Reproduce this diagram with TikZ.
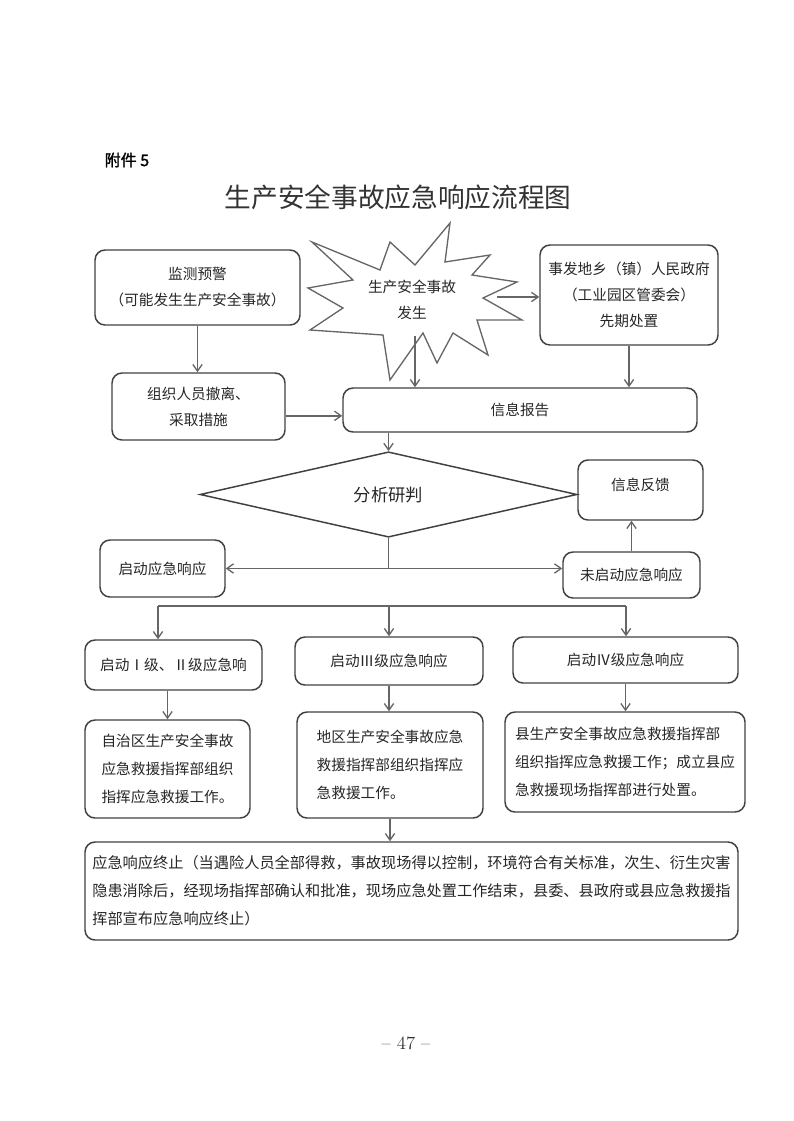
\documentclass[tikz,border=0pt]{standalone}
\usepackage{fontspec}
\newfontfamily\cjk{Noto Sans CJK SC}
\newfontfamily\cjkbold[FakeBold=1.5]{Noto Sans CJK SC}
\usetikzlibrary{shapes.geometric,arrows.meta}
\tikzset{
  box/.style={draw=black!75, line width=1.1pt, rounded corners=7.5pt, align=center, inner sep=0pt, text=black!85, font=\cjk\fontsize{11}{19.5}\selectfont},
  lbox/.style={box, align=left, font=\cjk\fontsize{11}{21}\selectfont},
  link/.style={black!60, line width=1pt},
}
\begin{document}
\begin{tikzpicture}[x=0.75pt,y=-0.75pt,>={Straight Barb[length=5pt,width=7pt]}]
\useasboundingbox (0,0) rectangle (793,1121);
    \node[anchor=west, font=\cjkbold\fontsize{12}{14}\selectfont] (att) at (100,160) {附件 5};
    \node[font=\cjk\fontsize{20}{24}\selectfont, text=black!80] (title) at (398,197) {生产安全事故应急响应流程图};
    \node[box, minimum width=153.75pt, minimum height=56.25pt] (warn) at (197.5,287.5) {监测预警\\（可能发生生产安全事故）};
    \draw[black!60, line width=1pt] (450,223) -- (445,262) -- (490,255) -- (472,275) -- (517,282) -- (483,298) -- (522,320) -- (477,320) -- (488,355) -- (453,333) -- (437,363) -- (423,333) -- (390,380) -- (383,335) -- (310,330) -- (343,308) -- (308,288) -- (353,280) -- (312,242) -- (380,270) -- (390,242) -- (415,265) -- cycle;
    \node[align=center, text=black!85, font=\cjk\fontsize{11}{19.5}\selectfont] (star) at (412,300) {生产安全事故\\发生};
    \node[box, minimum width=133.5pt, minimum height=75pt] (gov) at (629,295) {事发地乡（镇）人民政府\\（工业园区管委会）\\先期处置};
    \node[box, minimum width=129.75pt, minimum height=50.25pt] (evac) at (198.5,406.5) {组织人员撤离、\\采取措施};
    \node[box, minimum width=265.5pt, minimum height=33pt] (info) at (520,410) {信息报告};
    \node[diamond, draw=black!75, line width=1.1pt, inner sep=0pt, minimum width=282.75pt, minimum height=48.75pt, text=black!85, font=\cjk\fontsize{13}{16}\selectfont] (judge) at (388.5,494.5) {分析研判};
    \node[box, minimum width=93.75pt, minimum height=45pt, text depth=8pt] (fb) at (640.5,490) {信息反馈};
    \node[box, minimum width=93.75pt, minimum height=42.75pt] (start) at (162.5,568.5) {启动应急响应};
    \node[box, minimum width=102.75pt, minimum height=34.5pt] (nostart) at (631.5,575) {未启动应急响应};
    \node[box, minimum width=132.75pt, minimum height=37.5pt] (l1) at (173.5,665) {启动Ⅰ级、Ⅱ级应急响};
    \node[box, minimum width=141pt, minimum height=36pt] (l3) at (389,661) {启动Ⅲ级应急响应};
    \node[box, minimum width=168.75pt, minimum height=34.5pt] (l4) at (625.5,660) {启动Ⅳ级应急响应};
    \node[lbox, minimum width=123.75pt, minimum height=73.5pt] (r1) at (167.5,769) {自治区生产安全事故\\应急救援指挥部组织\\指挥应急救援工作。};
    \node[lbox, minimum width=139.5pt, minimum height=79.5pt] (r3) at (390,765) {地区生产安全事故应急\\救援指挥部组织指挥应\\急救援工作。};
    \node[lbox, minimum width=180pt, minimum height=75pt] (r4) at (625,762) {县生产安全事故应急救援指挥部\\组织指挥应急救援工作；成立县应\\急救援现场指挥部进行处置。};
    \node[lbox, minimum width=489.75pt, minimum height=73.5pt, font=\cjk\fontsize{11.4}{21}\selectfont] (stop) at (411.5,891) {应急响应终止（当遇险人员全部得救，事故现场得以控制，环境符合有关标准，次生、衍生灾害\\隐患消除后，经现场指挥部确认和批准，现场应急处置工作结束，县委、县政府或县应急救援指\\挥部宣布应急响应终止）};
    \node[font=\rmfamily\fontsize{14}{16}\selectfont, text=black!80] (page) at (406,1043) {-- 47 --};
    \coordinate (sr) at (497,297);
    \coordinate (sb) at (415,336);
    \coordinate (bus1) at (158,606);
    \coordinate (bus2) at (626,606);
    \draw[link, ->] (warn.south) -- (warn.south |- evac.north);
    \draw[link, ->] (sr) -- (sr -| gov.west);
    \draw[link, ->] (sb) -- (sb |- info.north);
    \draw[link, ->] (gov.south) -- (gov.south |- info.north);
    \draw[link, ->] ([yshift=-7pt]evac.east) -- ([yshift=-7pt]evac.east -| info.west);
    \draw[link, ->] (judge.north |- info.south) -- (judge.north);
    \draw[link] (judge.south) -- (judge.south |- start.east);
    \draw[link, <->] (start.east) -- (start.east -| nostart.west);
    \draw[link, ->] (nostart.north) -- (nostart.north |- fb.south);
    \draw[link] (bus1) -- (bus2);
    \draw[link, ->] (bus1) -- (bus1 |- l1.north);
    \draw[link, ->] (l3.north |- bus1) -- (l3.north);
    \draw[link, ->] (bus2) -- (bus2 |- l4.north);
    \draw[link, ->] (r1.north |- l1.south) -- (r1.north);
    \draw[link, ->] (l3.south) -- (l3.south |- r3.north);
    \draw[link, ->] (l4.south) -- (l4.south |- r4.north);
    \draw[link, ->] (r3.south) -- (r3.south |- stop.north);
\end{tikzpicture}
\end{document}
